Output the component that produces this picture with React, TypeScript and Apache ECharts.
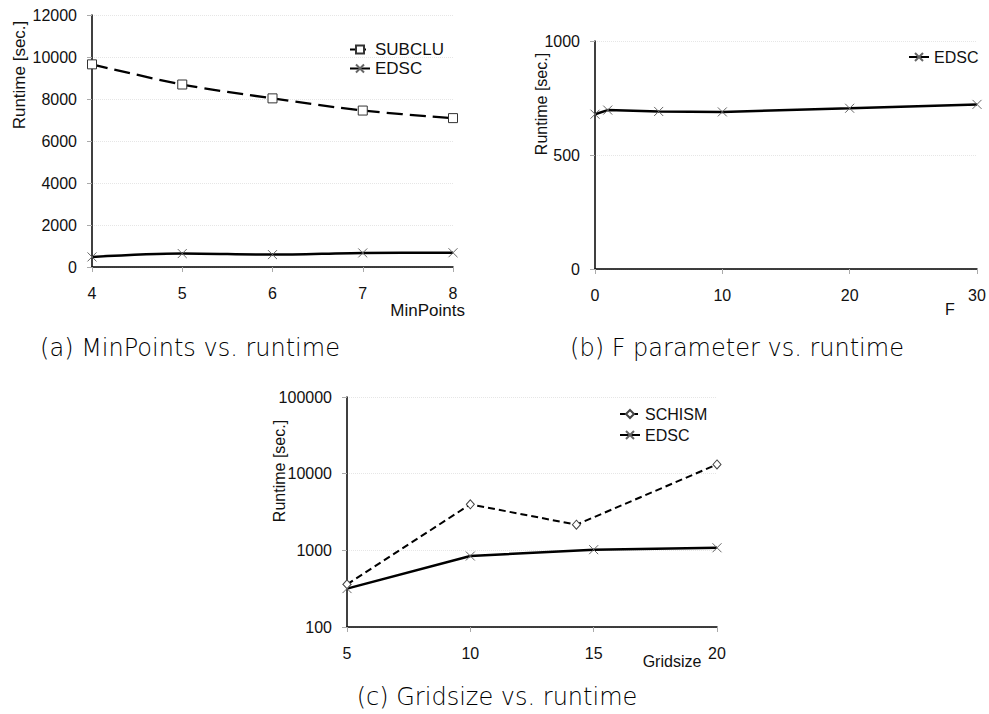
import React, { useEffect, useRef } from "react";
import * as echarts from "echarts";

// (a) MinPoints vs. runtime
const minPoints = [4, 5, 6, 7, 8];
const subcluRuntimeA = [9650, 8690, 8030, 7450, 7090];
const edscRuntimeA = [480, 640, 590, 670, 680];

// (b) F parameter vs. runtime
const fParam = [0, 1, 5, 10, 20, 30];
const edscRuntimeB = [679, 697, 691, 689, 705, 722];

// (c) Gridsize vs. runtime (log scale)
const schismGrid = [5, 10, 14.3, 20];
const schismRuntimeC = [360, 3980, 2160, 13200];
const edscGrid = [5, 10, 15, 20];
const edscRuntimeC = [317, 843, 1020, 1080];

const captions = ["(a) MinPoints vs. runtime", "(b) F parameter vs. runtime", "(c) Gridsize vs. runtime"];

const FONT = "Liberation Sans, Arial, sans-serif";
const CROSS = "path://M0 0L10 10M10 0L0 10";

const pairs = (xs: number[], ys: number[]) => xs.map((x, i) => [x, ys[i]]);

const xAxisBase = (idx: number, min: number, max: number, interval: number) => ({
  type: "value" as const,
  gridIndex: idx,
  min,
  max,
  interval,
  axisLine: { onZero: false, lineStyle: { color: "#000", width: 1.5 } },
  axisTick: { show: true, length: 5, lineStyle: { color: "#aaa" } },
  axisLabel: { color: "#111", fontSize: 16, fontFamily: FONT, margin: 18, formatter: (v: number) => String(v) },
  splitLine: { show: false },
});

const yAxisBase = (idx: number) => ({
  gridIndex: idx,
  axisLine: { show: true, lineStyle: { color: "#000", width: 1.5 } },
  axisTick: { show: true, length: 5, lineStyle: { color: "#aaa" } },
  axisLabel: { color: "#111", fontSize: 16, fontFamily: FONT, margin: 15, formatter: (v: number) => String(v) },
  splitLine: { show: true, lineStyle: { color: "#e6e6e6", type: "dotted" as const, width: 1 } },
});

const crossItem = { color: "transparent", borderColor: "#666", borderWidth: 1 };

export default function App() {
  const ref = useRef<HTMLDivElement>(null);

  useEffect(() => {
    document.body.style.margin = "0";
    if (!ref.current) return;
    const chart = echarts.init(ref.current, null, { renderer: "svg" });

    const legendText = { fontSize: 16, fontFamily: FONT, color: "#111" };

    chart.setOption({
      animation: false,
      backgroundColor: "#fff",
      grid: [
        { left: 92, top: 15, width: 361, height: 252 },
        { left: 595, top: 41, width: 382, height: 228 },
        { left: 347, top: 397, width: 370, height: 230 },
      ],
      xAxis: [
        xAxisBase(0, 4, 8, 1),
        xAxisBase(1, 0, 30, 10),
        xAxisBase(2, 5, 20, 5),
      ],
      yAxis: [
        { ...yAxisBase(0), type: "value", min: 0, max: 12000, interval: 2000 },
        { ...yAxisBase(1), type: "value", min: 0, max: 1000, interval: 500 },
        { ...yAxisBase(2), type: "log", logBase: 10, min: 100, max: 100000 },
      ],
      legend: [
        {
          data: ["SUBCLU", "EDSC"],
          orient: "vertical",
          left: 344,
          top: 36,
          itemWidth: 20,
          itemHeight: 10,
          itemGap: 2,
          textStyle: { ...legendText, fontSize: 17 },
          selectedMode: false,
        },
        {
          data: ["EDSC"],
          orient: "vertical",
          left: 903,
          top: 44,
          itemWidth: 20,
          itemHeight: 10,
          textStyle: legendText,
          selectedMode: false,
        },
        {
          data: ["SCHISM", "EDSC"],
          orient: "vertical",
          left: 614,
          top: 401,
          itemWidth: 20,
          itemHeight: 10,
          itemGap: 5,
          textStyle: legendText,
          selectedMode: false,
        },
      ],
      series: [
        {
          name: "SUBCLU",
          type: "line",
          xAxisIndex: 0,
          yAxisIndex: 0,
          data: pairs(minPoints, subcluRuntimeA),
          smooth: 0.3,
          symbol: "rect",
          symbolSize: 9,
          itemStyle: { color: "#fff", borderColor: "#333", borderWidth: 1 },
          lineStyle: { color: "#000", width: 2.3, type: [16, 7] },
          z: 3,
        },
        {
          name: "EDSC",
          type: "line",
          xAxisIndex: 0,
          yAxisIndex: 0,
          data: pairs(minPoints, edscRuntimeA),
          smooth: 0.3,
          symbol: CROSS,
          symbolSize: 9,
          itemStyle: crossItem,
          lineStyle: { color: "#000", width: 2.5 },
        },
        {
          name: "EDSC",
          type: "line",
          xAxisIndex: 1,
          yAxisIndex: 1,
          data: pairs(fParam, edscRuntimeB),
          symbol: CROSS,
          symbolSize: 9,
          itemStyle: crossItem,
          lineStyle: { color: "#000", width: 2.5 },
        },
        {
          name: "SCHISM",
          type: "line",
          xAxisIndex: 2,
          yAxisIndex: 2,
          data: pairs(schismGrid, schismRuntimeC),
          symbol: "diamond",
          symbolSize: [8, 9],
          itemStyle: { color: "#fff", borderColor: "#444", borderWidth: 1 },
          lineStyle: { color: "#000", width: 2, type: [7, 4] },
        },
        {
          name: "EDSC",
          type: "line",
          xAxisIndex: 2,
          yAxisIndex: 2,
          data: pairs(edscGrid, edscRuntimeC),
          symbol: CROSS,
          symbolSize: 9,
          itemStyle: crossItem,
          lineStyle: { color: "#000", width: 2.5 },
        },
      ],
      graphic: [
        // rotated y-axis titles
        ...[
          [19, 75, 17],
          [541, 104, 16],
          [279, 471, 16],
        ].map(([x, y, size]) => ({
          type: "text",
          x,
          y,
          rotation: Math.PI / 2,
          style: {
            text: "Runtime [sec.]",
            fontSize: size,
            fontFamily: FONT,
            fill: "#111",
            align: "center",
            verticalAlign: "middle",
          },
        })),
        // x-axis titles
        {
          type: "text",
          x: 465,
          y: 310,
          style: { text: "MinPoints", fontSize: 17, fontFamily: FONT, fill: "#111", align: "right", verticalAlign: "middle" },
        },
        {
          type: "text",
          x: 950,
          y: 309,
          style: { text: "F", fontSize: 16, fontFamily: FONT, fill: "#111", align: "center", verticalAlign: "middle" },
        },
        {
          type: "text",
          x: 672,
          y: 661,
          style: { text: "Gridsize", fontSize: 16, fontFamily: FONT, fill: "#111", align: "center", verticalAlign: "middle" },
        },
        // sub-figure captions
        ...[
          [190, 348],
          [737, 348],
          [497, 697],
        ].map(([x, y], i) => ({
          type: "text",
          x,
          y,
          style: {
            text: captions[i],
            fontSize: 24,
            fontFamily: "DejaVu Sans, sans-serif",
            fontWeight: 300,
            fill: "#000",
            align: "center",
            verticalAlign: "middle",
          },
        })),
      ],
    });

    return () => chart.dispose();
  }, []);

  return <div ref={ref} style={{ width: 989, height: 714 }} />;
}
